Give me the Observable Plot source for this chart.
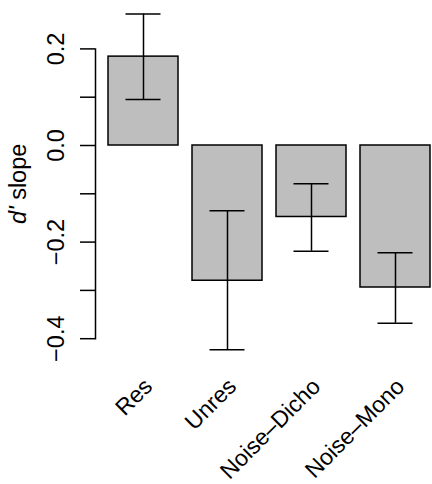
<!DOCTYPE html>
<html>
<head>
<meta charset="utf-8">
<script src="https://cdn.jsdelivr.net/npm/d3@7"></script>
<script src="https://cdn.jsdelivr.net/npm/@observablehq/plot@0.6"></script>
<style>
  html, body { margin: 0; padding: 0; background: #fff; }
</style>
</head>
<body>
<div id="chart"></div>
<script>
const categories = ["Res", "Unres", "Noise–Dicho", "Noise–Mono"];
const means = [0.184, -0.280, -0.148, -0.294];
const lower = [0.095, -0.423, -0.219, -0.368];
const upper = [0.272, -0.135, -0.079, -0.222];
const yTicks = [-0.4, -0.3, -0.2, -0.1, 0.0, 0.1, 0.2];
const yLabels = [-0.4, -0.2, 0.0, 0.2];
const yTitle = "d' slope";

const data = categories.map((c, i) => ({cat: c, mean: means[i], lo: lower[i], hi: upper[i]}));

const FS = 23.5;
const FSX = 23;
const svg = Plot.plot({
  width: 432,
  height: 484,
  marginLeft: 95,
  marginRight: 2,
  marginTop: 48.4,
  marginBottom: 145.8,
  style: {fontFamily: "'Liberation Sans', Arial, sans-serif", background: "#fff", color: "#000", fontSize: FS + "px"},
  x: {type: "band", domain: categories, range: [107, 430], paddingInner: 0.2 / 1.2, paddingOuter: 0, axis: null},
  y: {domain: [-0.4, 0.2], axis: null},
  marks: [
    Plot.barY(data, {x: "cat", y: "mean", fill: "#BEBEBE", stroke: "#000", strokeWidth: 1.5}),
    Plot.ruleX(data, {x: "cat", y1: "lo", y2: "hi", stroke: "#000", strokeWidth: 1.5}),
    Plot.tickY(data, {x: "cat", y: "lo", stroke: "#000", strokeWidth: 1.5, insetLeft: 17.5, insetRight: 17.5}),
    Plot.tickY(data, {x: "cat", y: "hi", stroke: "#000", strokeWidth: 1.5, insetLeft: 17.5, insetRight: 17.5}),
    Plot.frame({anchor: "left", stroke: "#000", strokeWidth: 1.5}),
    Plot.axisY(yTicks, {tickSize: 15, tickFormat: () => "", label: null, strokeWidth: 1.5}),
    Plot.text(yLabels, {y: d => d, text: d => d3.format(".1f")(d).replace("-", "\u2212"), frameAnchor: "left", rotate: -90, textAnchor: "middle", lineAnchor: "middle", dx: -39, fontSize: FS, fill: "#000"}),
    Plot.text([yTitle], {text: d => d, frameAnchor: "left", rotate: -90, textAnchor: "middle", lineAnchor: "middle", dx: -77, dy: -10, fontSize: FS, fill: "#000"}),
    Plot.text(categories, {x: d => d, text: d => d, frameAnchor: "bottom", rotate: -45, textAnchor: "end", lineAnchor: "middle", dx: 5, dy: 44, fontSize: FSX, fill: "#000"})
  ]
});

const t = [...svg.querySelectorAll("text")].find(e => e.textContent === yTitle);
if (t) {
  t.textContent = "";
  t.setAttribute("font-size", FS);
  const ns = "http://www.w3.org/2000/svg";
  const a = document.createElementNS(ns, "tspan");
  a.setAttribute("font-style", "italic");
  a.textContent = "d'";
  const b = document.createElementNS(ns, "tspan");
  b.textContent = " slope";
  t.appendChild(a);
  t.appendChild(b);
}
document.getElementById("chart").appendChild(svg);
</script>
</body>
</html>
